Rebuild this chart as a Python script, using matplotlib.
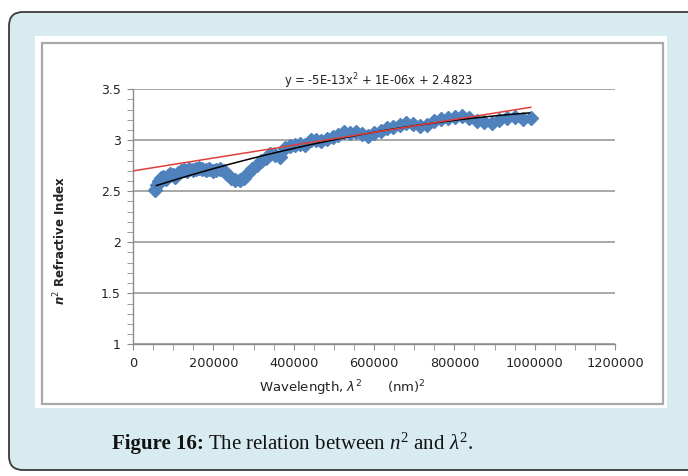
import matplotlib
matplotlib.use("Agg")
import matplotlib.pyplot as plt
import numpy as np
from matplotlib.patches import FancyBboxPatch, Rectangle
from matplotlib.ticker import MultipleLocator, FixedLocator, FixedFormatter

# ---- data -------------------------------------------------------------
# wavelength (nm) of each measurement; the x axis is lambda^2
wavelength_nm = [235, 245, 255, 265, 275, 285, 295, 305, 315, 325,
                 335, 345, 355, 365, 375, 385, 395, 405, 415, 425,
                 435, 445, 455, 465, 475, 485, 495, 505, 515, 525,
                 535, 545, 555, 565, 575, 585, 595, 605, 615, 625,
                 635, 645, 655, 665, 675, 685, 695, 705, 715, 725,
                 735, 745, 755, 765, 775, 785, 795, 805, 815, 825,
                 835, 845, 855, 865, 875, 885, 895, 905, 915, 925,
                 935, 945, 955, 965, 975, 985, 995]
# n^2 (refractive index squared)
n_squared = [2.51, 2.56, 2.60, 2.63, 2.64, 2.62, 2.65, 2.67, 2.66, 2.64,
             2.68, 2.70, 2.71, 2.70, 2.72, 2.71, 2.72, 2.73, 2.72, 2.71,
             2.72, 2.70, 2.71, 2.72, 2.70, 2.67, 2.63, 2.61, 2.61, 2.63,
             2.68, 2.72, 2.76, 2.80, 2.83, 2.87, 2.86, 2.84, 2.92, 2.94,
             2.95, 2.96, 2.95, 3.00, 3.00, 2.99, 3.01, 3.03, 3.05, 3.08,
             3.07, 3.08, 3.06, 3.04, 3.07, 3.09, 3.12, 3.13, 3.15, 3.17,
             3.16, 3.14, 3.15, 3.19, 3.21, 3.22, 3.23, 3.24, 3.22, 3.19,
             3.18, 3.17, 3.20, 3.22, 3.23, 3.21, 3.22]

# second-order trend (black): y = a x^2 + b x + c
poly_coeffs = [-5.1e-13, 1.3e-6, 2.4823]
poly_label = "y = -5E-13x$^2$ + 1E-06x + 2.4823"
# linear trend (red): y = m x + k, drawn from x = 0
linear_coeffs = [6.3e-7, 2.70]

xticks = [0, 200000, 400000, 600000, 800000, 1000000, 1200000]
xtick_labels = ["0", "200000", "400000", "600000", "800000", "1000000", "1200000"]
yticks = [1, 1.5, 2, 2.5, 3, 3.5]
ytick_labels = ["1", "1.5", "2", "2.5", "3", "3.5"]

# ---- figure -----------------------------------------------------------
W, H = 688, 476
fig = plt.figure(figsize=(W / 100, H / 100), dpi=100)
fig.patch.set_facecolor("white")

plt.rcParams["mathtext.rm"] = "Liberation Serif"
plt.rcParams["mathtext.it"] = "Liberation Serif:italic"
plt.rcParams["mathtext.bf"] = "Liberation Serif:bold"

# background card in pixel coordinates
bg = fig.add_axes([0, 0, 1, 1])
bg.set_xlim(0, W)
bg.set_ylim(H, 0)
bg.axis("off")
card = FancyBboxPatch((9, 12), 700, 458,
                      boxstyle="round,pad=0,rounding_size=14",
                      facecolor="#d8ebf1", edgecolor="#3a3a3a", lw=1.3)
bg.add_patch(card)
bg.add_patch(Rectangle((35, 36), 632, 372, facecolor="white", edgecolor="none"))
bg.add_patch(Rectangle((41.5, 43), 621.5, 361, facecolor="none",
                       edgecolor="#a9a9a9", lw=1.6))

# caption: bold label followed by regular sentence
cap_size = 15
renderer = fig.canvas.get_renderer()
t1 = bg.text(112, 444, "Figure 16:", family="Liberation Serif", fontweight="bold",
             fontsize=cap_size, ha="left", va="center", color="#111111")
w1 = t1.get_window_extent(renderer).width
bg.text(112 + w1 + 4, 444,
        r"The relation between $\mathit{n}^2$ and $\mathit{\lambda}^2$.",
        family="Liberation Serif", math_fontfamily="custom",
        fontsize=cap_size, ha="left", va="center", color="#111111")

# ---- chart ------------------------------------------------------------
ax = fig.add_axes([133 / W, 1 - 344.3 / H, (615 - 133) / W, (344.3 - 89.3) / H])
ax.set_facecolor("none")

x = np.array(wavelength_nm, dtype=float) ** 2
y = np.array(n_squared)

ax.plot(x, y, linestyle="none", marker="D", markersize=7.5,
        color="#4f81bd", markeredgecolor="#4f81bd", zorder=3)

xf = np.linspace(x.min() + 3000, x.max() - 3000, 200)
ax.plot(xf, np.polyval(poly_coeffs, xf), color="black", lw=1.1, zorder=4)
xl = np.linspace(0, x.max(), 2)
ax.plot(xl, np.polyval(linear_coeffs, xl), color="#e0403a", lw=1.1, zorder=4)

ax.set_xlim(0, 1200000)
ax.set_ylim(1, 3.5)
ax.xaxis.set_major_locator(FixedLocator(xticks))
ax.xaxis.set_major_formatter(FixedFormatter(xtick_labels))
ax.yaxis.set_major_locator(FixedLocator(yticks))
ax.yaxis.set_major_formatter(FixedFormatter(ytick_labels))
ax.xaxis.set_minor_locator(MultipleLocator(50000))
ax.yaxis.set_minor_locator(MultipleLocator(0.1))

ax.grid(axis="y", which="major", color="#9a9a9a", lw=1.2)
ax.set_axisbelow(True)
for s in ("top", "right"):
    ax.spines[s].set_visible(False)
for s in ("left", "bottom"):
    ax.spines[s].set_color("#8c8c8c")
    ax.spines[s].set_linewidth(1.0)

ax.tick_params(which="both", direction="out", color="#8c8c8c",
               labelcolor="#222222")
ax.tick_params(axis="x", labelsize=9.3)
ax.tick_params(axis="y", labelsize=9)
ax.tick_params(which="major", length=4, pad=5)
ax.tick_params(which="minor", length=4)

ax.set_xlabel(r"Wavelength, $\lambda^2$      (nm)$^2$", fontsize=9.5,
              color="#222222")
ax.xaxis.set_label_coords(0.434, -0.132)
ax.set_ylabel(r"$\mathbfit{n}^2$ Refractive Index", fontsize=8.5,
              fontweight="bold", color="#222222")
ax.yaxis.set_label_coords(-0.135, 0.405)

ax.text(0.51, 1.03, poly_label, transform=ax.transAxes, ha="center",
        va="center", fontsize=8.3, color="#222222")

fig.savefig("out.png", dpi=100)
